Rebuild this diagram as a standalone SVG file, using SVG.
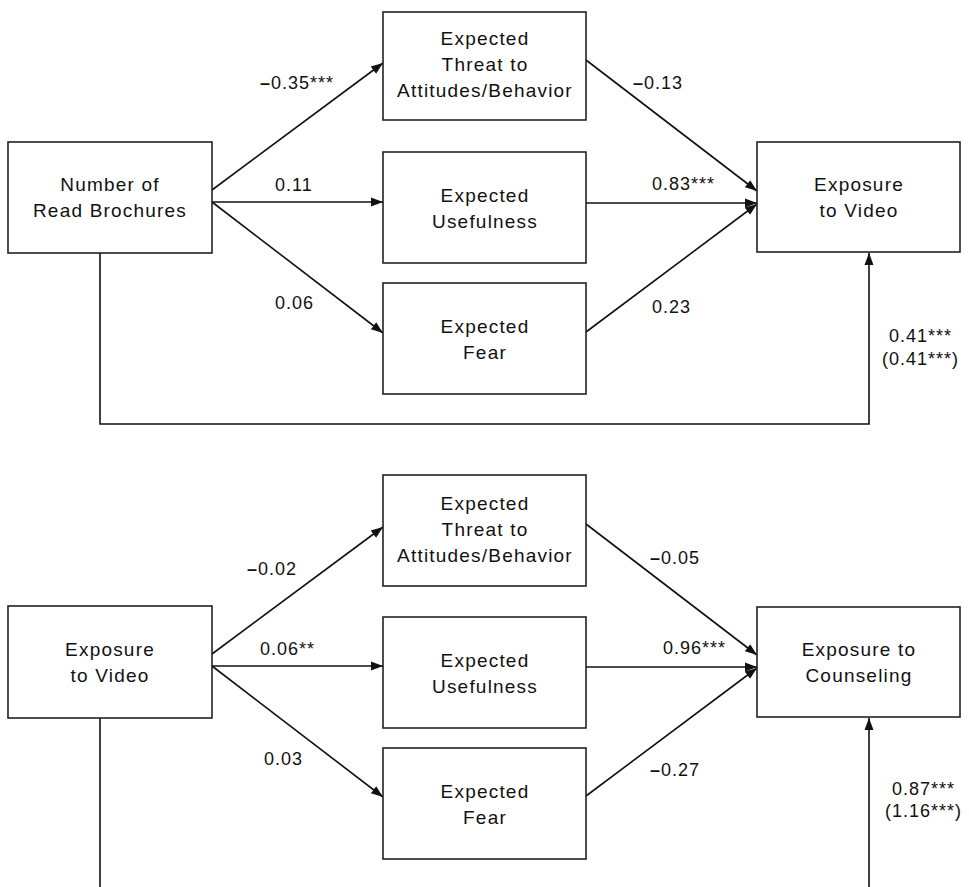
<svg xmlns="http://www.w3.org/2000/svg" width="969" height="887" viewBox="0 0 969 887">
<defs>
<marker id="ah" markerWidth="13" markerHeight="11" refX="12" refY="5.5" orient="auto" markerUnits="userSpaceOnUse"><path d="M0,1 L12,5.5 L0,10 z" fill="#111"/></marker>
</defs>
<style>
rect{fill:#fff;stroke:#222;stroke-width:1.6}
.n{font-family:"Liberation Sans",Arial,sans-serif;font-size:19px;letter-spacing:1.2px;fill:#111;text-anchor:middle}
.l{font-family:"Liberation Sans",Arial,sans-serif;font-size:18px;letter-spacing:1px;fill:#111}
.c line,.c path{stroke:#111;stroke-width:1.6;fill:none}
.a{marker-end:url(#ah)}
.m{font-weight:bold}
</style>
<rect x="0" y="0" width="969" height="887" style="fill:#fff;stroke:none"/>
<g class="c" id="connectors">
<line class="a" x1="212" y1="190" x2="383" y2="63"/>
<line class="a" x1="212" y1="202" x2="383" y2="202"/>
<line class="a" x1="212" y1="202" x2="383" y2="333"/>
<line class="a" x1="586" y1="60" x2="757" y2="191"/>
<line class="a" x1="586" y1="203" x2="757" y2="203"/>
<line class="a" x1="586" y1="332" x2="757" y2="204"/>
<path class="a" d="M100,253 V424 H869 V253"/>
<line class="a" x1="212" y1="654" x2="383" y2="527"/>
<line class="a" x1="212" y1="666" x2="383" y2="666"/>
<line class="a" x1="212" y1="666" x2="383" y2="797"/>
<line class="a" x1="586" y1="524" x2="757" y2="655"/>
<line class="a" x1="586" y1="667" x2="757" y2="667"/>
<line class="a" x1="586" y1="796" x2="757" y2="668"/>
<path d="M100,718 V887"/>
<path class="a" d="M869,887 V718"/>
</g>
<g id="labels">
<text class="l" x="260" y="89"><tspan class="m">–</tspan>0.35***</text>
<text class="l" x="275" y="191">0.11</text>
<text class="l" x="275" y="309">0.06</text>
<text class="l" x="633" y="89"><tspan class="m">–</tspan>0.13</text>
<text class="l" x="652" y="190">0.83***</text>
<text class="l" x="652" y="313">0.23</text>
<text class="l" x="889" y="342">0.41***</text>
<text class="l" x="882" y="365">(0.41***)</text>
<text class="l" x="247" y="575"><tspan class="m">–</tspan>0.02</text>
<text class="l" x="260" y="655">0.06**</text>
<text class="l" x="264" y="765">0.03</text>
<text class="l" x="650" y="564"><tspan class="m">–</tspan>0.05</text>
<text class="l" x="663" y="654">0.96***</text>
<text class="l" x="650" y="776"><tspan class="m">–</tspan>0.27</text>
<text class="l" x="892" y="795">0.87***</text>
<text class="l" x="885" y="817">(1.16***)</text>
</g>
<g id="brochures"><rect x="8" y="142" width="204" height="111"/><text class="n" x="110" y="191">Number of</text><text class="n" x="110" y="217">Read Brochures</text></g>
<g id="threat1"><rect x="383" y="12" width="203" height="108"/><text class="n" x="485" y="45">Expected</text><text class="n" x="485" y="71">Threat to</text><text class="n" x="485" y="97">Attitudes/Behavior</text></g>
<g id="useful1"><rect x="383" y="152" width="203" height="111"/><text class="n" x="485" y="202">Expected</text><text class="n" x="485" y="228">Usefulness</text></g>
<g id="fear1"><rect x="383" y="283" width="203" height="111"/><text class="n" x="485" y="333">Expected</text><text class="n" x="485" y="359">Fear</text></g>
<g id="video1"><rect x="757" y="142" width="203" height="110"/><text class="n" x="859" y="191">Exposure</text><text class="n" x="859" y="217">to Video</text></g>
<g id="video2"><rect x="8" y="606" width="204" height="112"/><text class="n" x="110" y="656">Exposure</text><text class="n" x="110" y="682">to Video</text></g>
<g id="threat2"><rect x="383" y="475" width="203" height="111"/><text class="n" x="485" y="510">Expected</text><text class="n" x="485" y="536">Threat to</text><text class="n" x="485" y="562">Attitudes/Behavior</text></g>
<g id="useful2"><rect x="383" y="617" width="203" height="111"/><text class="n" x="485" y="667">Expected</text><text class="n" x="485" y="693">Usefulness</text></g>
<g id="fear2"><rect x="383" y="748" width="203" height="111"/><text class="n" x="485" y="798">Expected</text><text class="n" x="485" y="824">Fear</text></g>
<g id="counseling"><rect x="757" y="607" width="203" height="110"/><text class="n" x="859" y="656">Exposure to</text><text class="n" x="859" y="682">Counseling</text></g>
</svg>
